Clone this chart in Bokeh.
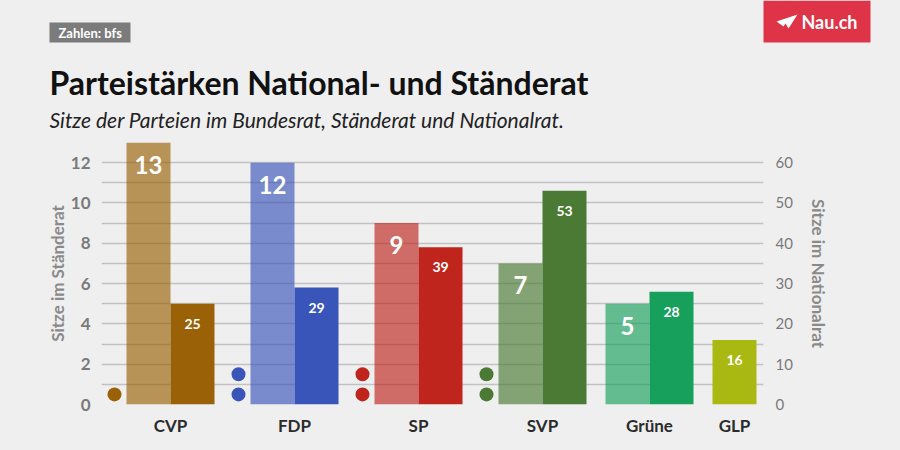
from bokeh.plotting import figure
from bokeh.models import (Range1d, LinearAxis, FixedTicker, Label, ColumnDataSource)
from bokeh.core.properties import value
from bokeh.embed import file_html
from bokeh.resources import INLINE

# ---------------- data ----------------
parties = ["CVP", "FDP", "SP", "SVP", "Grüne", "GLP"]
staenderat = [13, 12, 9, 7, 5, 0]          # left axis (Sitze im Ständerat)
nationalrat = [25, 29, 39, 53, 28, 16]     # right axis (Sitze im Nationalrat)
bundesrat = [1, 2, 2, 2, 0, 0]             # dots (Bundesrat)
left_ticks = [0, 2, 4, 6, 8, 10, 12]
right_ticks = [0, 10, 20, 30, 40, 50, 60]
dark_colors = ["#9A6106", "#3A55BA", "#BF251D", "#4A7A33", "#17A05B", "#AAB812"]

title = "Parteistärken National- und Ständerat"
subtitle = "Sitze der Parteien im Bundesrat, Ständerat und Nationalrat."
source_tag = "Zahlen: bfs"
brand = "Nau.ch"

FONT = "Lato"
BG = "#EFEFF0"
W = 900
HEADER_H = 142
CHART_H = 450 - HEADER_H

# ---------------- header figure ----------------
h = figure(width=W, height=HEADER_H, output_backend="svg", toolbar_location=None,
           x_range=Range1d(0, W), y_range=Range1d(HEADER_H, 0),
           x_axis_type=None, y_axis_type=None,
           min_border=0, min_border_left=0, min_border_right=0,
           min_border_top=0, min_border_bottom=0,
           background_fill_color=BG, border_fill_color=BG, outline_line_color=None)
h.xgrid.visible = False
h.ygrid.visible = False

h.quad(left=[49], right=[130], top=[22], bottom=[42], fill_color="#7B7B7B", line_color=None)
h.add_layout(Label(x=58, y=32, text=source_tag, text_font=FONT, text_font_style="bold",
                   text_font_size="13px", text_color="white", text_baseline="middle"))
h.quad(left=[763], right=[870], top=[0], bottom=[42], fill_color="#DF3447", line_color=None)
h.patch(x=[776, 797, 788, 785, 783], y=[21, 14, 28, 23, 26], fill_color="white", line_color=None)
h.add_layout(Label(x=829, y=21, text=brand, text_font=FONT, text_font_style="bold",
                   text_font_size="18px", text_color="white", text_baseline="middle",
                   text_align="center"))
h.add_layout(Label(x=49, y=82, text=title, text_font=FONT, text_font_style="bold",
                   text_font_size="32px", text_color="#111111", text_baseline="middle"))
h.add_layout(Label(x=49, y=119, text=subtitle, text_font=FONT, text_font_style="italic",
                   text_font_size="21px", text_color="#222222", text_baseline="middle"))

# ---------------- chart layout (x in pixel-like units) ----------------
BAR_W = 44
FIRST = 25
GAP_DOT = 36
GAP = 19
DOT_OFF = 12

light_x, light_v, light_c = [], [], []
dark_x, dark_c = [], []
dot_x, dot_y, dot_c = [], [], []
label_pos = []
cursor = FIRST
for i, party in enumerate(parties):
    if i > 0:
        cursor += GAP_DOT if bundesrat[i] > 0 else GAP
    for k in range(bundesrat[i]):
        dot_x.append(cursor - DOT_OFF)
        dot_y.append(k + 0.5)
        dot_c.append(dark_colors[i])
    if staenderat[i] > 0:
        light_x.append(cursor + BAR_W / 2)
        light_v.append(staenderat[i])
        light_c.append(dark_colors[i])
        cursor += BAR_W
        label_pos.append(cursor)
    else:
        label_pos.append(cursor + BAR_W / 2)
    dark_x.append(cursor + BAR_W / 2)
    dark_c.append(dark_colors[i])
    cursor += BAR_W

FRAME_L = 101
FRAME_W = 662
FRAME_B = 46

p = figure(width=W, height=CHART_H, output_backend="svg", toolbar_location=None,
           x_range=Range1d(0, FRAME_W), y_range=Range1d(0, 13),
           min_border_left=FRAME_L, min_border_right=W - FRAME_L - FRAME_W,
           min_border_top=0, min_border_bottom=FRAME_B,
           background_fill_color=BG, border_fill_color=BG, outline_line_color=None)
p.extra_y_ranges = {"nr": Range1d(0, 65)}

p.xgrid.grid_line_color = None
p.ygrid.ticker = FixedTicker(ticks=list(range(0, 13)))
p.ygrid.grid_line_color = "#C2C2C4"
p.ygrid.grid_line_width = 1.5

ax = p.yaxis[0]
ax.ticker = FixedTicker(ticks=left_ticks)
ax.axis_line_color = None
ax.major_tick_line_color = None
ax.minor_tick_line_color = None
ax.major_label_text_font = FONT
ax.major_label_text_font_style = "bold"
ax.major_label_text_font_size = "17px"
ax.major_label_text_color = "#7A7A7A"
ax.major_label_standoff = 5
ax.axis_label = "Sitze im Ständerat"
ax.axis_label_text_font = FONT
ax.axis_label_text_font_style = "bold"
ax.axis_label_text_font_size = "17px"
ax.axis_label_text_color = "#8A8A8A"
ax.axis_label_standoff = 0

rax = LinearAxis(y_range_name="nr", ticker=FixedTicker(ticks=right_ticks))
rax.axis_line_color = None
rax.major_tick_line_color = None
rax.minor_tick_line_color = None
rax.major_label_text_font = FONT
rax.major_label_text_font_size = "15px"
rax.major_label_text_color = "#7A7A7A"
rax.major_label_standoff = 6
rax.axis_label = "Sitze im Nationalrat"
rax.axis_label_text_font = FONT
rax.axis_label_text_font_style = "bold"
rax.axis_label_text_font_size = "17px"
rax.axis_label_text_color = "#8A8A8A"
rax.axis_label_standoff = 12
p.add_layout(rax, "right")

xa = p.xaxis[0]
xa.ticker = FixedTicker(ticks=label_pos)
xa.major_label_overrides = {pos: name for pos, name in zip(label_pos, parties)}
xa.axis_line_color = None
xa.major_tick_line_color = None
xa.minor_tick_line_color = None
xa.major_label_text_font = FONT
xa.major_label_text_font_style = "bold"
xa.major_label_text_font_size = "17px"
xa.major_label_text_color = "#2B2B2B"
xa.major_label_standoff = 4

ls = ColumnDataSource(dict(x=light_x, v=light_v, c=light_c, t=[str(v) for v in light_v]))
ds = ColumnDataSource(dict(x=dark_x, v=nationalrat, c=dark_c, t=[str(v) for v in nationalrat]))
p.vbar(x="x", top="v", width=BAR_W, fill_color="c", fill_alpha=0.65, line_color=None, source=ls)
p.vbar(x="x", top="v", width=BAR_W, fill_color="c", line_color=None, source=ds, y_range_name="nr")

p.text(x="x", y="v", text="t", source=ls, text_color="white", text_font=value(FONT),
       text_font_style="bold", text_font_size="24px", text_align="center",
       text_baseline="middle", y_offset=22)
p.text(x="x", y="v", text="t", source=ds, text_color="white", text_font=value(FONT),
       text_font_style="bold", text_font_size="14px", text_align="center",
       text_baseline="middle", y_offset=20, y_range_name="nr")

p.scatter(x=dot_x, y=dot_y, size=14, color=dot_c, line_color=None)

html = file_html([h, p], INLINE)
html = html.replace("</head>", "<style>html,body{background:%s;}</style></head>" % BG, 1)
open("out.html", "w").write(html)
